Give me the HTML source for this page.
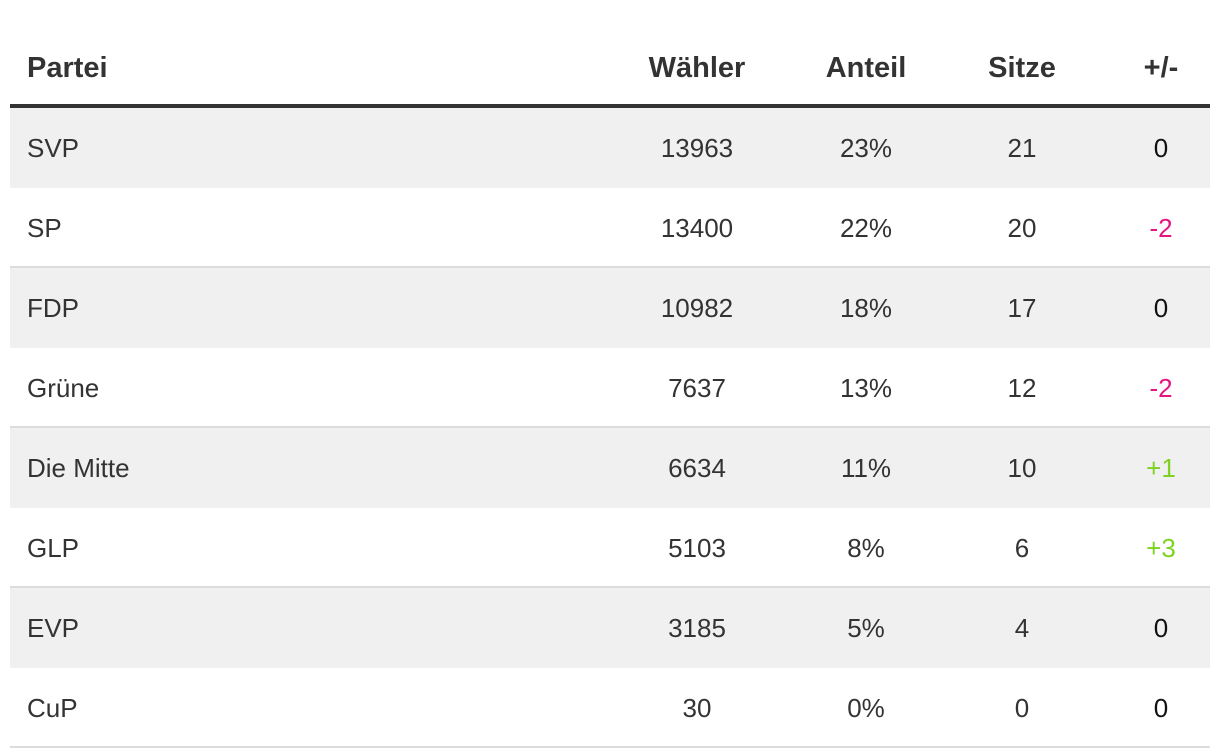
<!DOCTYPE html>
<html><head><meta charset="utf-8"><style>
body{margin:0;width:1220px;height:756px;background:#fff;font-family:"Liberation Sans",sans-serif;color:#333;overflow:hidden}
.t{position:absolute;left:10px;top:0;width:1200px}
.row{position:relative;height:80px;box-sizing:border-box}
.hd{height:108px;border-bottom:4px solid #333}
.hd .c{top:48px;font-weight:bold;font-size:29px;line-height:40px}
.r{border-bottom:2px solid #dcdcdc}
.r.g{background:#f0f0f0}
.c{position:absolute;top:20px;font-size:26px;line-height:40px;white-space:nowrap}
.c0{left:17px}
.c1{left:607px;width:160px;text-align:center}
.c2{left:776px;width:160px;text-align:center}
.c3{left:932px;width:160px;text-align:center}
.c4{left:1091px;width:120px;text-align:center}
.neg{color:#e6157f}.pos{color:#7ed321}.z{color:#111}
</style></head><body>
<div class="t">
<div class="row hd">
<div class="c c0">Partei</div>
<div class="c c1">Wähler</div>
<div class="c c2">Anteil</div>
<div class="c c3">Sitze</div>
<div class="c c4">+/-</div>
</div>
<div id="body"></div>
</div>
<script>
const parties=["SVP","SP","FDP","Grüne","Die Mitte","GLP","EVP","CuP"];
const voters=[13963,13400,10982,7637,6634,5103,3185,30];
const shares=["23%","22%","18%","13%","11%","8%","5%","0%"];
const seats=[21,20,17,12,10,6,4,0];
const changes=[0,-2,0,-2,1,3,0,0];
const body=document.getElementById('body');
parties.forEach((p,i)=>{
  const r=document.createElement('div');
  r.className='row r'+(i%2===0?' g':'');
  r.style.height=(i%2===0?'80px':'80px');
  
  
  if(i%2===0){r.style.borderBottom='none';}
  const ch=changes[i];
  const chTxt=ch>0?'+'+ch:String(ch);
  const chCls=ch>0?'pos':(ch<0?'neg':'z');
  const vals=[[p,'c0','party-name'],[voters[i],'c1','voters'],[shares[i],'c2','share'],[seats[i],'c3','seats'],[chTxt,'c4 '+chCls,'seat-change']];
  vals.forEach(v=>{
    const c=document.createElement('div');
    c.className='c '+v[1];
    c.textContent=v[0];
    
    
    r.appendChild(c);
  });
  body.appendChild(r);
});
</script>
</body></html>
